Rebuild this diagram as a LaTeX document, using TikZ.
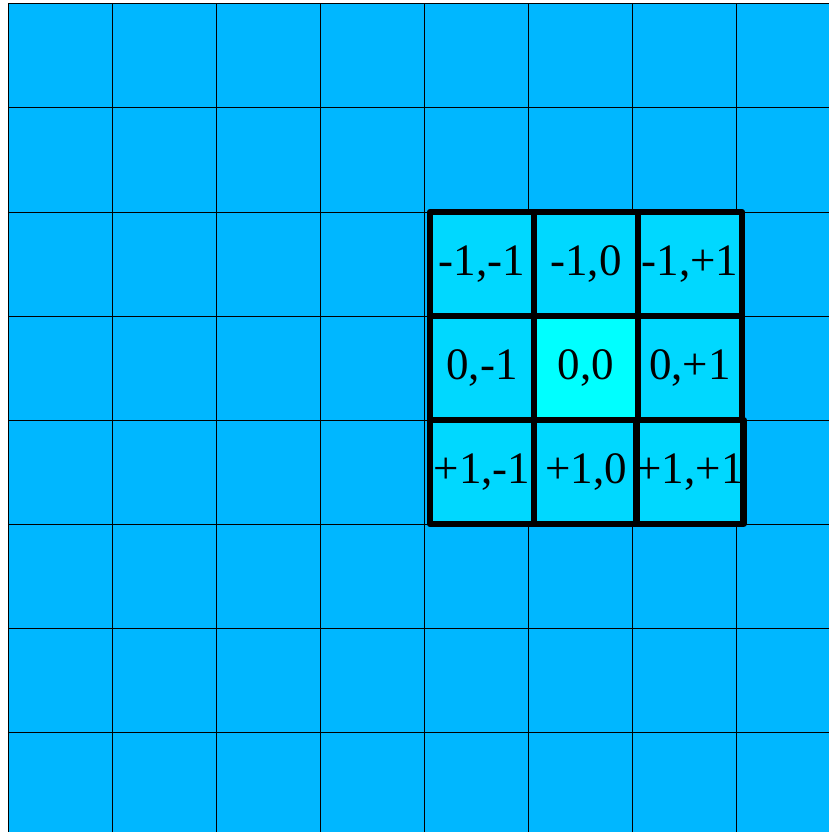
\documentclass[tikz,border=0pt]{standalone}
\usepackage{fontspec}
\setmainfont{Liberation Serif}
\definecolor{bgblue}{HTML}{00B7FF}
\definecolor{cellblue}{HTML}{00D8FF}
\definecolor{centercyan}{HTML}{00FFFF}
\begin{document}
\begin{tikzpicture}[x=1pt,y=-1pt,
  thinline/.style={draw=black, line width=1pt},
  cell/.style={draw=black, line width=6.5pt, fill=cellblue, minimum width=104pt, minimum height=104pt, inner sep=0pt, font=\fontsize{45}{48}\selectfont, line join=round},
  centercell/.style={cell, fill=centercyan}]
\useasboundingbox (0,0) rectangle (829,832);
\fill[bgblue] (8,4) rectangle (829,832);
\foreach \x in {8,112,...,736} \draw[thinline] (\x,4) -- (\x,832);
\foreach \y in {4,108,...,732} \draw[thinline] (8,\y) -- (829,\y);
\node[cell] (mm) at (482,264) {-1,-1};
\node[cell] (mz) at (586,264) {-1,0};
\node[cell] (mp) at (690,264) {-1,+1};
\node[cell] (zm) at (482,368) {0,-1};
\node[centercell] (zz) at (586,368) {0,0};
\node[cell] (zp) at (690,368) {0,+1};
\node[cell] (pm) at (482,472) {+1,-1};
\node[cell] (pz) at (586,472) {+1,0};
\node[cell] (pp) at (690,472) {+1,+1};
\end{tikzpicture}
\end{document}
